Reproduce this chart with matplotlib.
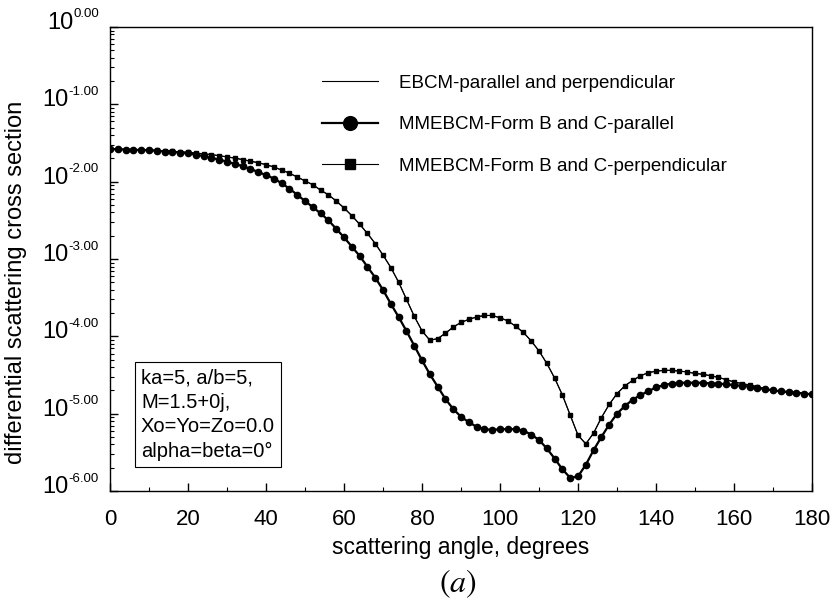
import numpy as np
import matplotlib
matplotlib.use('Agg')
import matplotlib.pyplot as plt
import matplotlib.transforms as mtransforms
from matplotlib.ticker import MultipleLocator, LogLocator, NullFormatter

# scattering angle (deg), one marker every 2 degrees
angles = np.arange(0, 181, 2)

# log10 of differential scattering cross section
par_log = [
    -1.58, -1.58, -1.585, -1.59, -1.59, -1.595, -1.60, -1.61, -1.615, -1.625,
    -1.635, -1.65, -1.67, -1.69, -1.715, -1.74, -1.77, -1.80, -1.835, -1.875,
    -1.915, -1.96, -2.02, -2.09, -2.17, -2.25, -2.33, -2.41, -2.50, -2.61,
    -2.72, -2.84, -2.96, -3.10, -3.24, -3.40, -3.58, -3.75, -3.93, -4.12,
    -4.31, -4.49, -4.65, -4.81, -4.94, -5.04, -5.11, -5.17, -5.20, -5.21,
    -5.20, -5.20, -5.20, -5.22, -5.27, -5.34, -5.45, -5.58, -5.72, -5.83,
    -5.81, -5.66, -5.47, -5.30, -5.14, -5.00, -4.90, -4.82, -4.76, -4.71,
    -4.66, -4.63, -4.61, -4.60, -4.60, -4.60, -4.60, -4.61, -4.61, -4.62,
    -4.63, -4.64, -4.65, -4.67, -4.68, -4.70, -4.71, -4.72, -4.73, -4.74,
    -4.75,
]
perp_log = [
    -1.58, -1.58, -1.585, -1.59, -1.59, -1.59, -1.595, -1.60, -1.605, -1.615,
    -1.62, -1.63, -1.64, -1.65, -1.665, -1.68, -1.695, -1.715, -1.735, -1.755,
    -1.78, -1.81, -1.85, -1.89, -1.94, -1.99, -2.04, -2.11, -2.17, -2.25,
    -2.34, -2.44, -2.55, -2.67, -2.80, -2.95, -3.11, -3.30, -3.52, -3.74,
    -3.93, -4.05, -4.03, -3.96, -3.88, -3.82, -3.78, -3.75, -3.73, -3.73,
    -3.76, -3.80, -3.87, -3.95, -4.06, -4.19, -4.35, -4.54, -4.76, -5.02,
    -5.28, -5.39, -5.25, -5.05, -4.88, -4.74, -4.64, -4.57, -4.51, -4.47,
    -4.45, -4.44, -4.44, -4.45, -4.46, -4.48, -4.49, -4.51, -4.53, -4.56,
    -4.59, -4.61, -4.63, -4.65, -4.68, -4.70, -4.71, -4.72, -4.73, -4.74,
    -4.75,
]
par = np.power(10.0, par_log)
perp = np.power(10.0, perp_log)

decades = [0, -1, -2, -3, -4, -5, -6]
labels = ['EBCM-parallel and perpendicular',
          'MMEBCM-Form B and C-parallel',
          'MMEBCM-Form B and C-perpendicular']
info = 'ka=5, a/b=5,\nM=1.5+0j,\nXo=Yo=Zo=0.0\nalpha=beta=0\u00b0'

plt.rcParams['font.family'] = ['Liberation Sans', 'DejaVu Sans']
plt.rcParams['mathtext.fontset'] = 'stix'

fig = plt.figure(figsize=(8.31, 6.08), dpi=100)
ax = fig.add_axes([0.1324, 0.1924, 0.8448, 0.7632])

l0, = ax.plot(angles, par, '-', color='k', lw=0.8, label=labels[0])
ax.plot(angles, perp, '-', color='k', lw=0.8)
l1, = ax.plot(angles, par, '-o', color='k', lw=1.6, ms=4.5, label=labels[1])
l2, = ax.plot(angles, perp, '-s', color='k', lw=0.8, ms=3.3, label=labels[2])

ax.set_yscale('log')
ax.set_xlim(0, 180)
ax.set_ylim(1e-6, 1)

ax.xaxis.set_major_locator(MultipleLocator(20))
ax.xaxis.set_minor_locator(MultipleLocator(10))
ax.yaxis.set_major_locator(LogLocator(base=10, numticks=10))
ax.yaxis.set_minor_locator(LogLocator(base=10, subs=np.arange(2, 10), numticks=20))
ax.yaxis.set_minor_formatter(NullFormatter())
ax.yaxis.set_major_formatter(NullFormatter())

ax.tick_params(which='both', direction='in', labelsize=16)
ax.tick_params(which='major', length=6, width=1)
ax.tick_params(which='minor', length=3, width=0.8)
ax.tick_params(axis='x', pad=13)
for s in ax.spines.values():
    s.set_linewidth(1.0)

# y tick labels: big "10" with a small exponent like 10^-1.00
trans = mtransforms.blended_transform_factory(ax.transAxes, ax.transData)
fig.canvas.draw()
renderer = fig.canvas.get_renderer()
for d in decades:
    sup_tr = trans + mtransforms.ScaledTranslation(-8 / 72, 9 / 72, fig.dpi_scale_trans)
    sup = ax.text(0, 10.0 ** d, '%.2f' % d, transform=sup_tr, ha='right',
                  va='center', fontsize=9.5)
    bb = sup.get_window_extent(renderer)
    w = bb.width / fig.dpi
    base_tr = trans + mtransforms.ScaledTranslation(-8 / 72 - w, 3 / 72, fig.dpi_scale_trans)
    ax.text(0, 10.0 ** d, '10', transform=base_tr, ha='right', va='center',
            fontsize=17)

ax.set_xlabel('scattering angle, degrees', fontsize=16.5, labelpad=4)
fig.text(16 / 831, 1 - 282 / 608, 'differential scattering cross section',
         rotation=90, va='center', ha='center', fontsize=17)

ax.legend(handles=[l0, l1, l2], loc='upper left', bbox_to_anchor=(0.302, 0.897),
          frameon=False, fontsize=13.5, handlelength=3.0, handletextpad=1.1,
          labelspacing=1.3, borderaxespad=0, borderpad=0, markerscale=2.2)

fig.text(141 / 831, 1 - 368 / 608, info, va='top', ha='left', fontsize=14.5,
         linespacing=1.38,
         bbox=dict(boxstyle='square,pad=0.3', fc='white', ec='k', lw=0.8))

fig.text(458 / 831, 1 - 584 / 608, '$(a)$', ha='center', va='center', fontsize=23)

fig.savefig('out.png', dpi=100)
